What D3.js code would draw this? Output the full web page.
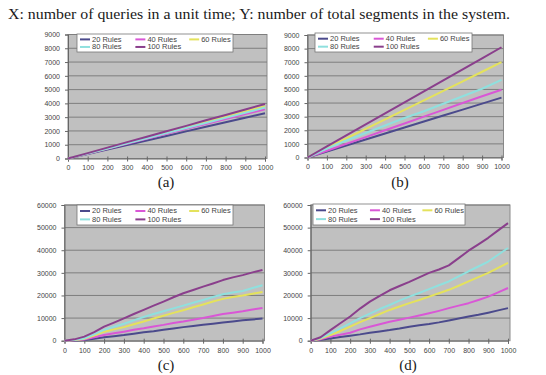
<!DOCTYPE html>
<html>
<head>
<meta charset="utf-8">
<script src="https://cdn.jsdelivr.net/npm/d3@7"></script>
<style>
  body { margin: 0; background: #fff; }
  svg { display: block; }
</style>
</head>
<body>
<div id="chart"></div>
<script>
// series names (Excel default line colours, softened like the scan)
const seriesNames = ['20 Rules', '40 Rules', '60 Rules', '80 Rules', '100 Rules'];
const seriesColors = ['#4b4a8c', '#d957d6', '#e4e25c', '#8fe0de', '#8a3f8c'];

// x values
const xCoarse = [0, 100, 200, 300, 400, 500, 600, 700, 800, 900, 1000];
const xFine = [0, 50, 100, 150, 200, 250, 300, 350, 400, 450, 500, 550, 600, 650, 700, 750, 800, 850, 900, 950, 1000];

// tick labels
const xTicks = [0, 100, 200, 300, 400, 500, 600, 700, 800, 900, 1000];
const yTicksSmall = [0, 1000, 2000, 3000, 4000, 5000, 6000, 7000, 8000, 9000];
const yTicksLarge = [0, 10000, 20000, 30000, 40000, 50000, 60000];

// panel (a): order 20, 40, 60, 80, 100 rules, at xCoarse
const panelA = [
  [0, 320, 650, 980, 1310, 1640, 1970, 2300, 2630, 2960, 3290],
  [0, 350, 710, 1070, 1430, 1790, 2150, 2500, 2860, 3220, 3580],
  [0, 370, 750, 1130, 1510, 1890, 2270, 2650, 3030, 3410, 3800],
  [0, 360, 730, 1100, 1470, 1840, 2210, 2580, 2950, 3320, 3700],
  [0, 390, 790, 1190, 1580, 1980, 2370, 2770, 3160, 3560, 3950]
];

// panel (b)
const panelB = [
  [0, 440, 880, 1320, 1760, 2200, 2640, 3080, 3520, 3960, 4400],
  [0, 500, 1000, 1500, 2000, 2500, 3000, 3500, 4000, 4500, 4980],
  [0, 700, 1400, 2100, 2800, 3500, 4200, 4900, 5600, 6300, 7000],
  [0, 650, 1250, 1800, 2350, 2900, 3400, 3950, 4500, 5050, 5700],
  [0, 810, 1620, 2430, 3240, 4050, 4860, 5670, 6480, 7290, 8100]
];

// panel (c), at xFine
const panelC = [
  [0, 100, 300, 900, 1500, 2000, 2500, 3100, 3700, 4200, 4800, 5400, 6000, 6500, 7000, 7500, 8000, 8500, 9000, 9400, 9800],
  [0, 200, 500, 1500, 2500, 3300, 4000, 4800, 5500, 6300, 7000, 7800, 8500, 9300, 10000, 10900, 11800, 12400, 13000, 13800, 14500],
  [0, 300, 800, 2300, 4000, 5000, 6000, 7300, 8500, 9800, 11000, 12300, 13500, 14800, 16000, 17300, 18500, 19300, 20000, 20800, 21500],
  [0, 400, 1000, 2800, 4800, 6200, 7500, 9000, 10500, 11800, 13000, 14300, 15500, 16800, 18000, 19300, 20500, 21300, 22000, 23300, 24500],
  [0, 600, 1800, 3800, 6200, 8000, 9900, 11800, 13600, 15500, 17300, 19200, 21000, 22400, 23900, 25300, 26800, 28000, 29000, 30200, 31300]
];

// panel (d), at xFine
const panelD = [
  [0, 400, 1000, 1600, 2200, 2800, 3500, 4100, 4700, 5400, 6200, 6800, 7400, 8100, 8900, 9800, 10700, 11500, 12400, 13400, 14400],
  [0, 600, 1800, 2600, 3500, 5000, 6200, 7300, 8400, 9300, 10200, 11100, 12100, 13200, 14400, 15500, 16600, 18000, 19500, 21400, 23300],
  [0, 900, 2500, 4300, 6200, 8200, 10000, 11800, 13600, 15100, 16600, 18000, 19500, 21000, 22500, 24300, 26200, 28100, 30000, 32200, 34400],
  [0, 1200, 3200, 5500, 7700, 10000, 12000, 14000, 15800, 17700, 19500, 21100, 22800, 24500, 26200, 28400, 30700, 32800, 35000, 38000, 41000],
  [0, 1500, 4700, 7700, 10700, 14200, 17300, 19800, 22300, 24200, 26000, 28000, 30000, 31500, 33300, 36500, 39800, 42600, 45500, 48800, 52000]
];

const W = 546, H = 375;
const svg = d3.select('#chart').append('svg')
  .attr('width', W).attr('height', H);

svg.append('text')
  .attr('x', 8).attr('y', 19)
  .attr('textLength', 502)
  .attr('lengthAdjust', 'spacingAndGlyphs')
  .style('font-family', '"Liberation Serif", "Times New Roman", serif')
  .style('font-size', '15px')
  .attr('fill', '#1a1a1a')
  .text('X: number of queries in a unit time; Y: number of total segments in the system.');

// layout of each panel
const panels = [
  { data: panelA, xs: xCoarse, yTicks: yTicksSmall, x0: 68, x1: 265, top: 34.5, bottom: 158.5,
    legend: { x: 77, y: 34, w: 156, h: 18 }, caption: '(a)', cx: 166, cy: 187 },
  { data: panelB, xs: xCoarse, yTicks: yTicksSmall, x0: 307.5, x1: 501.5, top: 35, bottom: 157.5,
    legend: { x: 315, y: 33, w: 157, h: 19 }, caption: '(b)', cx: 400, cy: 187 },
  { data: panelC, xs: xFine, yTicks: yTicksLarge, x0: 64.5, x1: 262.5, top: 205, bottom: 340.7,
    legend: { x: 77, y: 205, w: 156, h: 20 }, caption: '(c)', cx: 166, cy: 370 },
  { data: panelD, xs: xFine, yTicks: yTicksLarge, x0: 310.7, x1: 508, top: 205, bottom: 340.7,
    legend: { x: 313, y: 204, w: 152, h: 21 }, caption: '(d)', cx: 408, cy: 370 }
];
const legendCols = [0, 0.355, 0.70];

panels.forEach(p => {
  const x = d3.scaleLinear().domain([0, 1000]).range([p.x0, p.x1]);
  const y = d3.scaleLinear().domain([0, d3.max(p.yTicks)]).range([p.bottom, p.top]);
  const g = svg.append('g');

  // plot area
  g.append('rect')
    .attr('x', p.x0).attr('y', p.top)
    .attr('width', p.x1 - p.x0 + 2).attr('height', p.bottom - p.top)
    .attr('fill', '#c0c0c0')
    .attr('stroke', '#8a8a8a').attr('stroke-width', 1);

  // gridlines
  g.selectAll('.grid').data(p.yTicks.slice(1))
    .enter().append('line')
    .attr('x1', p.x0).attr('x2', p.x1 + 2)
    .attr('y1', d => y(d)).attr('y2', d => y(d))
    .attr('stroke', '#7e7e7e').attr('stroke-width', 1);

  // axes
  const xAxis = g.append('g')
    .attr('transform', `translate(0,${p.bottom})`)
    .call(d3.axisBottom(x).tickValues(xTicks).tickSize(3).tickPadding(4).tickFormat(d3.format('d')));
  const yAxis = g.append('g')
    .attr('transform', `translate(${p.x0},0)`)
    .call(d3.axisLeft(y).tickValues(p.yTicks).tickSize(3).tickPadding(5).tickFormat(d3.format('d')));
  [xAxis, yAxis].forEach(a => {
    a.selectAll('.domain').attr('stroke', '#666');
    a.selectAll('.tick line').attr('stroke', '#666');
    a.selectAll('text')
      .style('font-family', '"Liberation Sans", Arial, sans-serif')
      .style('font-size', '7px')
      .attr('fill', '#444');
  });
  xAxis.selectAll('.tick line').attr('y1', -2);

  // series lines
  const line = d3.line()
    .x((d, i) => x(p.xs[i]))
    .y(d => y(d));
  p.data.forEach((s, i) => {
    g.append('path')
      .datum(s)
      .attr('d', line)
      .attr('fill', 'none')
      .attr('stroke', seriesColors[i])
      .attr('stroke-width', 2)
      .attr('stroke-linejoin', 'round');
  });

  // legend
  const L = p.legend;
  g.append('rect')
    .attr('x', L.x).attr('y', L.y).attr('width', L.w).attr('height', L.h)
    .attr('fill', '#fff').attr('stroke', '#777').attr('stroke-width', 0.8);
  seriesNames.forEach((name, i) => {
    const col = i < 3 ? i : i - 3;
    const row = i < 3 ? 0 : 1;
    const lx = L.x + 3 + legendCols[col] * L.w;
    const ly = L.y + L.h * (row === 0 ? 0.3 : 0.72);
    g.append('line')
      .attr('x1', lx).attr('x2', lx + 10)
      .attr('y1', ly).attr('y2', ly)
      .attr('stroke', seriesColors[i]).attr('stroke-width', 2);
    g.append('text')
      .attr('x', lx + 12).attr('y', ly)
      .attr('dy', '0.33em')
      .style('font-family', '"Liberation Sans", Arial, sans-serif')
      .style('font-size', '7.5px')
      .attr('fill', '#444')
      .text(name);
  });

  // caption
  svg.append('text')
    .attr('x', p.cx).attr('y', p.cy)
    .attr('text-anchor', 'middle')
    .style('font-family', '"Liberation Serif", "Times New Roman", serif')
    .style('font-size', '15px')
    .attr('fill', '#1a1a1a')
    .text(p.caption);
});
</script>
</body>
</html>
